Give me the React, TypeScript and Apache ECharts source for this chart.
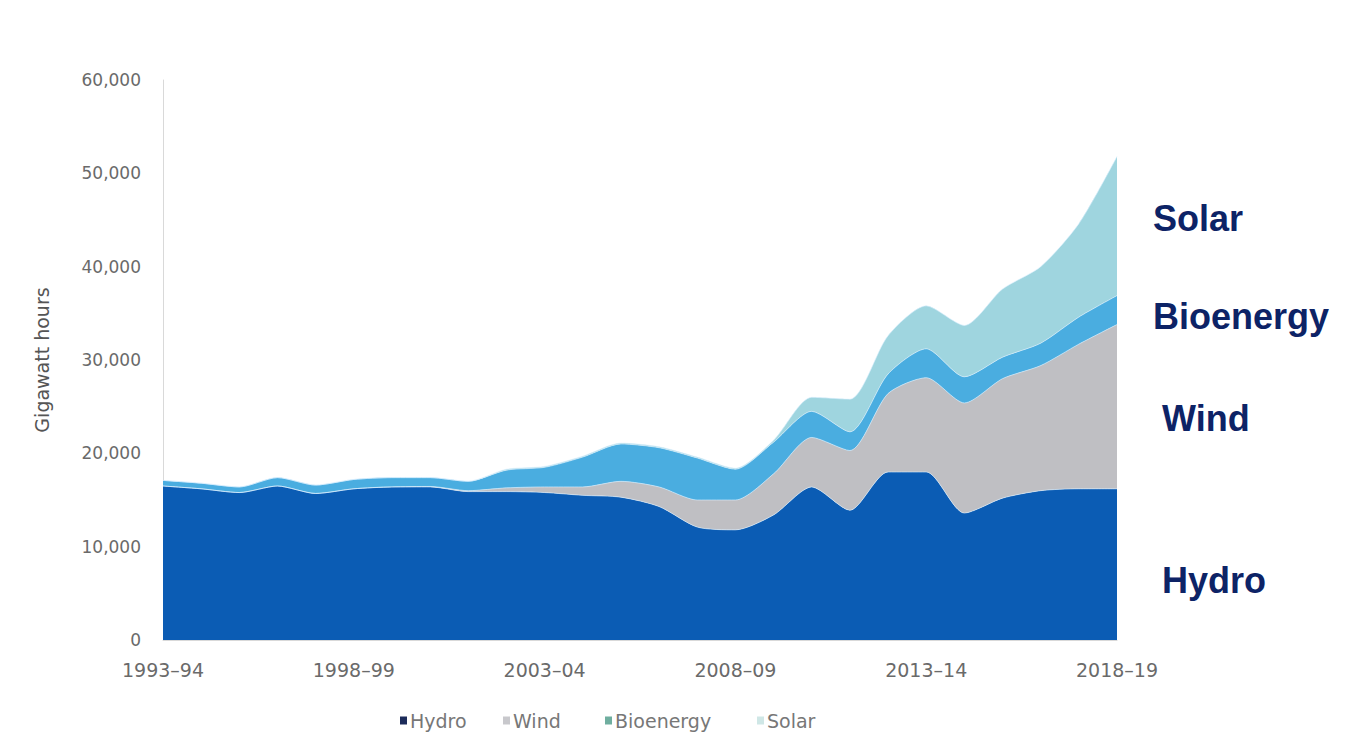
import React, { useEffect, useRef } from "react";
import * as echarts from "echarts";

const years = [
  "1993–94", "1994–95", "1995–96", "1996–97", "1997–98", "1998–99", "1999–00",
  "2000–01", "2001–02", "2002–03", "2003–04", "2004–05", "2005–06", "2006–07",
  "2007–08", "2008–09", "2009–10", "2010–11", "2011–12", "2012–13", "2013–14",
  "2014–15", "2015–16", "2016–17", "2017–18", "2018–19",
];

const hydro = [16500, 16200, 15800, 16500, 15700, 16200, 16400, 16400, 15900, 15900, 15800, 15500, 15300, 14300, 12100, 11800, 13400, 16400, 13900, 18000, 18000, 13600, 15200, 16000, 16200, 16200];
const wind = [0, 0, 0, 0, 0, 0, 0, 50, 100, 400, 600, 900, 1700, 2100, 2900, 3200, 4400, 5300, 6400, 8400, 10100, 11800, 12800, 13400, 15500, 17600];
const bioenergy = [600, 600, 600, 900, 900, 1000, 1000, 950, 1000, 1900, 2100, 3200, 4000, 4200, 4500, 3300, 3400, 2800, 2000, 2100, 3100, 2800, 2300, 2400, 2900, 3100];
const solar = [0, 0, 0, 0, 0, 0, 0, 0, 0, 100, 100, 100, 100, 100, 100, 100, 200, 1500, 3500, 4100, 4600, 5500, 7300, 8200, 10000, 14900];

const yTicks = [0, 10000, 20000, 30000, 40000, 50000, 60000];

const seriesNames = ["Hydro", "Wind", "Bioenergy", "Solar"];
const seriesColors = ["#0b5cb4", "#bfbfc3", "#4aade0", "#9fd5df"];
const legendMarkerColors = ["#1c2b5a", "#c8c8cc", "#6fae9f", "#cfe7e6"];
const legendLefts = [395, 498, 600, 752];
const sideLabels = [
  { text: "Solar", x: 1153, y: 218 },
  { text: "Bioenergy", x: 1153, y: 316 },
  { text: "Wind", x: 1162, y: 418 },
  { text: "Hydro", x: 1162, y: 580 },
];

const BOLD_FONT = "'Liberation Sans', Arial, sans-serif";
const FONT = "'DejaVu Sans', Verdana, sans-serif";

export default function App() {
  const ref = useRef<HTMLDivElement>(null);

  useEffect(() => {
    if (!ref.current) return;
    const chart = echarts.init(ref.current, undefined, { renderer: "svg" });
    const data = [hydro, wind, bioenergy, solar];
    chart.setOption({
      animation: false,
      backgroundColor: "#ffffff",
      textStyle: { fontFamily: FONT },
      grid: { left: 163, right: 230, top: 80, bottom: 109, containLabel: false },
      legend: seriesNames.map((n, i) => ({
        data: [{ name: n, icon: "rect", itemStyle: { color: legendMarkerColors[i] } }],
        left: legendLefts[i],
        top: 706,
        itemWidth: 7,
        itemHeight: 8,
        itemGap: 4,
        selectedMode: false,
        textStyle: { color: "#777777", fontSize: 19, fontFamily: FONT, padding: [0, 0, 0, -2] },
      })),
      xAxis: {
        type: "category",
        data: years,
        boundaryGap: false,
        axisLine: { show: true, lineStyle: { color: "#d9d9d9" } },
        axisTick: { show: false },
        axisLabel: {
          interval: 4,
          color: "#6a6a6a",
          fontSize: 19,
          margin: 20,
          fontFamily: FONT,
        },
        splitLine: { show: false },
      },
      yAxis: {
        type: "value",
        min: yTicks[0],
        max: yTicks[yTicks.length - 1],
        interval: 10000,
        name: "Gigawatt hours",
        nameLocation: "middle",
        nameGap: 112,
        nameRotate: 90,
        nameTextStyle: { color: "#555555", fontSize: 19, fontFamily: FONT },
        axisLine: { show: true, lineStyle: { color: "#d9d9d9" } },
        axisTick: { show: false },
        splitLine: { show: false },
        axisLabel: {
          color: "#6a6a6a",
          fontSize: 17,
          margin: 22,
          fontFamily: FONT,
          formatter: (v: number) => v.toLocaleString("en-US"),
        },
      },
      series: seriesNames.map((name, i) => ({
        name,
        type: "line",
        stack: "total",
        data: data[i],
        smooth: 0.25,
        symbol: "none",
        color: seriesColors[i],
        lineStyle: { width: 1, color: "rgba(220,240,255,0.6)" },
        areaStyle: { color: seriesColors[i], opacity: 1 },
        z: 2,
      })),
      graphic: sideLabels.map((l) => ({
        type: "text",
        x: l.x,
        y: l.y,
        style: {
          text: l.text,
          fontSize: 36,
          fontWeight: "bold",
          fontFamily: BOLD_FONT,
          fill: "#0d2366",
          textVerticalAlign: "middle",
        },
      })),
    });
    return () => chart.dispose();
  }, []);

  return (
    <div
      ref={ref}
      style={{ position: "fixed", left: 0, top: 0, width: 1347, height: 749 }}
    />
  );
}
